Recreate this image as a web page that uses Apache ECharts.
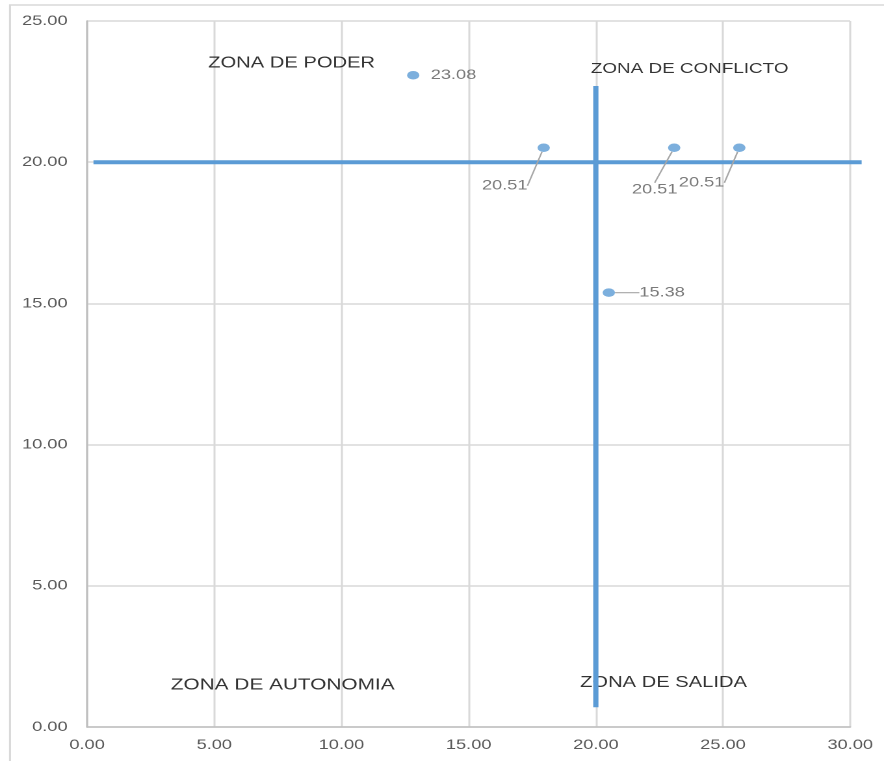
<!DOCTYPE html>
<html>
<head>
<meta charset="utf-8">
<script src="https://cdn.jsdelivr.net/npm/echarts@6/dist/echarts.min.js"></script>
<style>
html,body{margin:0;padding:0;background:#fff;overflow:hidden;}
#c{width:680px;height:761px;transform:scaleX(1.3);transform-origin:0 0;}
</style>
</head>
<body>
<div id="c"></div>
<script>
// Data points (x, y)
const pointX = [12.82, 17.95, 23.08, 25.64, 20.51];
const pointY = [23.08, 20.51, 20.51, 20.51, 15.38];
// Quadrant dividing lines (start/end)
const hLineX = [0.25, 30.45];
const hLineY = [20, 20];
const vLineX = [20, 20];
const vLineY = [0.7, 22.7];
// Zone annotations
const zoneNames = ['ZONA DE PODER', 'ZONA DE CONFLICTO', 'ZONA DE AUTONOMIA', 'ZONA DE SALIDA'];
const zoneX = [8.04, 23.69, 7.69, 22.66];
const zoneY = [23.51, 23.30, 1.49, 1.56];
// Axis settings
const xMin = 0, xMax = 30, xStep = 5;
const yMin = 0, yMax = 25, yStep = 5;

// styling only: label offsets (px), leader visibility, zone font sizes
const labelOffsets = [[31, 0], [-30, 38], [-15, 42], [-29, 35], [41, 0]];
const labelLineShown = [false, true, true, true, true];
const zoneFontSizes = [15.5, 14.5, 16, 15.5];

const FONT = 'Liberation Sans';
const chart = echarts.init(document.getElementById('c'), null, {devicePixelRatio: 2});

const pts = pointX.map((x, i) => ({
  value: [x, pointY[i]],
  labelLine: {show: labelLineShown[i]}
}));

const segData = [
  [hLineX[0], hLineY[0], hLineX[1], hLineY[1]],
  [vLineX[0], vLineY[0], vLineX[1], vLineY[1]]
];

chart.setOption({
  animation: false,
  backgroundColor: '#fff',
  grid: {left: 67, right: 26, top: 21, bottom: 34, containLabel: false},
  graphic: [{
    type: 'rect', silent: true, z: -10,
    shape: {x: 7.7, y: 5, width: 1000, height: 1000},
    style: {fill: 'none', stroke: '#d9d9d9', lineWidth: 1.5}
  }],
  xAxis: {
    type: 'value', min: xMin, max: xMax, interval: xStep,
    axisLine: {show: true, onZero: false, lineStyle: {color: '#bfbfbf', width: 1.5}},
    axisTick: {show: false},
    splitLine: {show: true, lineStyle: {color: '#d9d9d9', width: 1.5}},
    axisLabel: {color: '#595959', fontFamily: FONT, fontSize: 14, margin: 11,
      formatter: v => v.toFixed(2)}
  },
  yAxis: {
    type: 'value', min: yMin, max: yMax, interval: yStep,
    axisLine: {show: true, onZero: false, lineStyle: {color: '#bfbfbf', width: 1.5}},
    axisTick: {show: false},
    splitLine: {show: true, lineStyle: {color: '#d9d9d9', width: 1.5}},
    axisLabel: {color: '#595959', fontFamily: FONT, fontSize: 14, margin: 15,
      formatter: v => v.toFixed(2)}
  },
  series: [
    {
      type: 'scatter', z: 1, silent: true,
      symbolSize: 0,
      data: zoneNames.map((n, i) => ({
        name: n, value: [zoneX[i], zoneY[i]],
        label: {fontSize: zoneFontSizes[i]}
      })),
      label: {show: true, position: 'inside', formatter: p => p.name,
        color: '#000000', fontFamily: FONT, fontSize: 16}
    },
    {
      type: 'custom', z: 3, silent: true, clip: false,
      encode: {x: [0, 2], y: [1, 3]},
      data: segData,
      renderItem: function (params, api) {
        const p1 = api.coord([api.value(0), api.value(1)]);
        const p2 = api.coord([api.value(2), api.value(3)]);
        return {
          type: 'line',
          shape: {x1: p1[0], y1: p1[1], x2: p2[0], y2: p2[1]},
          style: {stroke: '#5B9BD5', lineWidth: 4}
        };
      }
    },
    {
      type: 'scatter', z: 5,
      symbol: 'circle', symbolSize: [9.5, 8.5],
      itemStyle: {color: '#5B9BD5'},
      data: pts,
      label: {show: true, position: 'inside', color: '#595959', fontFamily: FONT, fontSize: 14,
        formatter: p => p.value[1].toFixed(2)},
      labelLine: {show: true, lineStyle: {color: '#a6a6a6', width: 1.2}},
      labelLayout: function (params) {
        const o = labelOffsets[params.dataIndex];
        return {dx: o[0], dy: o[1], hideOverlap: false};
      }
    }
  ]
});
</script>
</body>
</html>
